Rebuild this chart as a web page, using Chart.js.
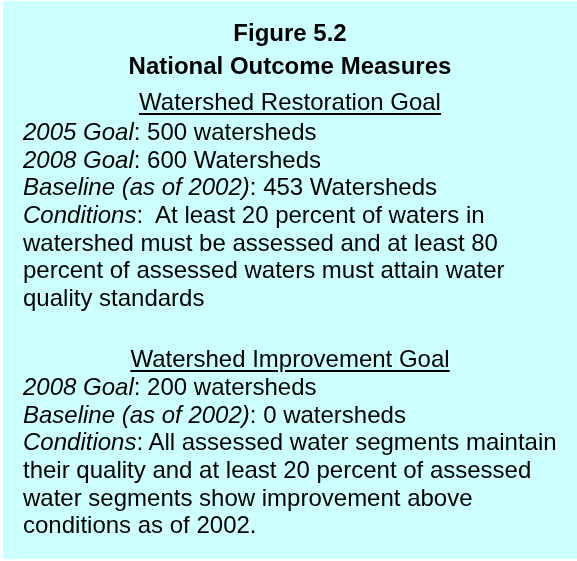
<!DOCTYPE html>
<html>
<head>
<meta charset="utf-8">
<script src="https://cdn.jsdelivr.net/npm/chart.js@4"></script>
<style>
  body { margin: 0; background: #fff; }
  #caja { position: absolute; left: 3px; top: 1px; width: 574px; height: 558px; }
  #fondo { position: absolute; left: 0; top: 0; }
  #texto {
    position: absolute; left: 0; top: 0; width: 574px;
    font-family: "Liberation Sans", Arial, sans-serif; font-size: 24px;
    line-height: 27.7px; color: #000; padding-top: 17.8px;
  }
  #texto div { white-space: pre; }
  .centro { text-align: center; }
  .titulo { font-weight: bold; }
  .meta { text-decoration: underline; text-underline-offset: 3px; }
  .linea { padding-left: 20px; }
  #t2 { margin-top: 5.3px; }
  #m1 { margin-top: 8.3px; }
  #l1 { margin-top: 2.3px; }
  #m2 { margin-top: 33.1px; }
  #l2 { margin-top: 0.3px; }
</style>
</head>
<body>
<div id="caja">
  <canvas id="fondo" width="574" height="558"></canvas>
  <div id="texto"></div>
</div>
<script>
// textos del cuadro
const titulos = ["Figure 5.2", "National Outcome Measures"]
const metas = ["Watershed Restoration Goal", "Watershed Improvement Goal"]

// cada linea: [parte en cursiva, resto]
const restauracion = [
  ["2005 Goal", ": 500 watersheds"],
  ["2008 Goal", ": 600 Watersheds"],
  ["Baseline (as of 2002)", ": 453 Watersheds"],
  ["Conditions", ":  At least 20 percent of waters in"],
  ["", "watershed must be assessed and at least 80"],
  ["", "percent of assessed waters must attain water"],
  ["", "quality standards"]
]
const mejora = [
  ["2008 Goal", ": 200 watersheds"],
  ["Baseline (as of 2002)", ": 0 watersheds"],
  ["Conditions", ": All assessed water segments maintain"],
  ["", "their quality and at least 20 percent of assessed"],
  ["", "water segments show improvement above"],
  ["", "conditions as of 2002."]
]

// fondo celeste dibujado con Chart.js
const pintarFondo = {
  id: "pintarFondo",
  beforeDraw(chart) {
    const c = chart.ctx
    c.save()
    c.fillStyle = "#CCFFFF"
    c.fillRect(0, 0, chart.width, chart.height)
    c.restore()
  }
}

new Chart(document.getElementById("fondo"), {
  type: "bar",
  data: { labels: [], datasets: [] },
  options: {
    responsive: false,
    animation: false,
    plugins: { legend: { display: false }, tooltip: { enabled: false } },
    scales: { x: { display: false }, y: { display: false } }
  },
  plugins: [pintarFondo]
})

const texto = document.getElementById("texto")

const agregar = (html, clase, id) => {
  const d = document.createElement("div")
  d.className = clase
  if (id) d.id = id
  d.innerHTML = html
  texto.appendChild(d)
}

const agregarLineas = (lineas, id) => {
  lineas.forEach((l, i) => {
    let html = l[0] ? "<i>" + l[0] + "</i>" + l[1] : l[1]
    agregar(html, "linea", i == 0 ? id : null)
  })
}

agregar(titulos[0], "centro titulo", "t1")
agregar(titulos[1], "centro titulo", "t2")
agregar('<span class="meta">' + metas[0] + "</span>", "centro", "m1")
agregarLineas(restauracion, "l1")
agregar('<span class="meta">' + metas[1] + "</span>", "centro", "m2")
agregarLineas(mejora, "l2")
</script>
</body>
</html>
